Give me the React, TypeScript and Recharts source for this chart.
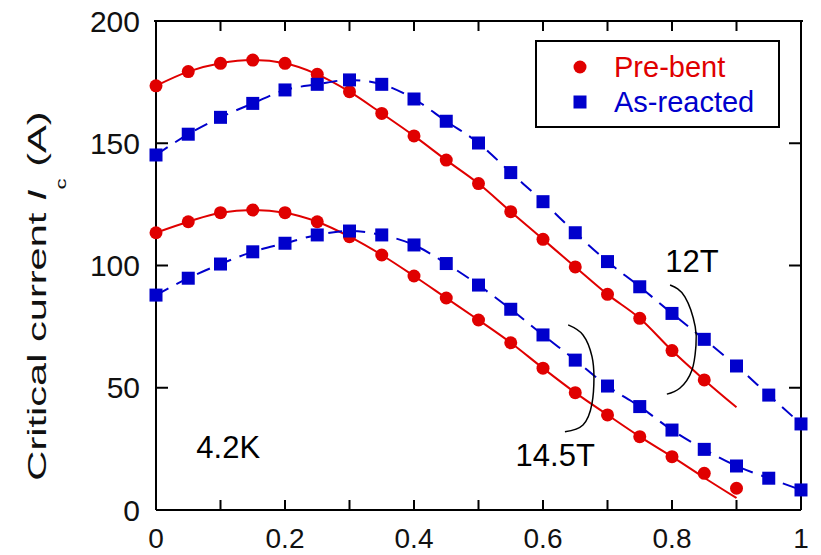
import React from "react";
import {
  ComposedChart,
  Line,
  Scatter,
  XAxis,
  YAxis,
  Legend,
  ReferenceDot,
} from "recharts";

// strain / bending position axis, one point every 0.05
const X_GRID = [
  0, 0.05, 0.1, 0.15, 0.2, 0.25, 0.3, 0.35, 0.4, 0.45, 0.5, 0.55, 0.6, 0.65,
  0.7, 0.75, 0.8, 0.85, 0.9, 0.95, 1,
];

const X_TICKS = [0, 0.1, 0.2, 0.3, 0.4, 0.5, 0.6, 0.7, 0.8, 0.9, 1];
const TOP_TICKS = [0.1, 0.2, 0.3, 0.4, 0.5, 0.6, 0.7, 0.8, 0.9];
const Y_TICKS = [0, 50, 100, 150, 200];
const Y_TICKS_RIGHT = [50, 100, 150];

// Pre-bent, 12T (measured points)
const RED_12T = [
  173.5, 179.3, 182.7, 184.0, 182.7, 178.2, 171.1, 162.2, 153.0, 143.1, 133.5,
  122.0, 110.7, 99.4, 88.2, 78.4, 65.2, 53.2,
];
// Pre-bent, 12T (fit curve)
const RED_12T_FIT = [
  173.5, 179.3, 182.7, 184.0, 182.7, 178.2, 171.1, 162.2, 153.0, 143.1, 133.5,
  122.0, 110.7, 99.4, 88.2, 78.4, 65.2, 53.2, 42.0,
];

// Pre-bent, 14.5T
const RED_14T = [
  113.4, 117.9, 121.6, 122.7, 121.6, 117.9, 111.8, 104.3, 95.7, 86.7, 77.7,
  68.4, 58.0, 48.0, 38.9, 30.0, 21.8, 15.0, 8.9,
];
const RED_14T_FIT = [
  113.4, 117.9, 121.6, 122.7, 121.6, 117.9, 111.8, 104.3, 95.7, 86.7, 77.7,
  68.4, 58.0, 48.0, 38.9, 30.0, 21.8, 13.2, 4.9,
];

// As-reacted, 12T
const BLUE_12T = [
  145.2, 153.7, 160.6, 166.3, 171.8, 174.1, 175.9, 174.1, 168.1, 159.0, 150.1,
  138.0, 126.1, 113.4, 101.6, 91.3, 80.4, 69.8, 58.9, 47.0, 35.2,
];

// As-reacted, 14.5T
const BLUE_14T = [
  87.9, 94.8, 100.6, 105.6, 109.1, 112.5, 114.1, 112.5, 108.4, 100.8, 92.0,
  82.1, 71.6, 61.3, 50.7, 42.3, 32.7, 24.8, 18.0, 13.0, 8.2,
];

// bracket arcs next to the field labels
const ARC_12T_X = [0.797, 0.82, 0.836, 0.837, 0.831, 0.812, 0.792];
const ARC_12T_Y = [92.0, 87.2, 75.0, 66.8, 57.3, 49.8, 47.4];
const ARC_14T_X = [0.639, 0.662, 0.676, 0.679, 0.676, 0.662, 0.634];
const ARC_14T_Y = [75.7, 71.6, 62.7, 53.9, 43.6, 34.8, 32.0];

const RED = "#E00000";
const BLUE = "#0000CC";
const FONT = "'Liberation Sans', Arial, sans-serif";

// plot box (matches chart margins / axis sizes below)
const PLOT_LEFT = 156;
const PLOT_TOP = 21;
const PLOT_WIDTH = 645;

const toPts = (vals: number[]) => vals.map((y, i) => ({ x: X_GRID[i], y }));
const zipPts = (xs: number[], ys: number[]) => xs.map((x, i) => ({ x, y: ys[i] }));

const circleShape = (p: any) => (
  <circle cx={p.cx} cy={p.cy} r={6.5} fill={RED} />
);
const squareShape = (p: any) => (
  <rect x={p.cx - 6.5} y={p.cy - 6.5} width={13} height={13} fill={BLUE} />
);

const fmtX = (v: number) => {
  const i = Math.round(v * 10);
  if (i % 2 !== 0) return "";
  return i === 0 ? "0" : i === 10 ? "1" : (i / 10).toFixed(1);
};

function YLabel() {
  return (
    <text
      transform="translate(37,296) rotate(-90) scale(1.6,1)"
      textAnchor="middle"
      fontSize={26}
      fill="#111"
      fontFamily={FONT}
      dy={9}
    >
      Critical current <tspan fontStyle="italic">I</tspan>
      <tspan fontSize={14} dy={20}>c</tspan>
      <tspan dy={-20}> (A)</tspan>
    </text>
  );
}

function LegendBox() {
  return (
    <div
      style={{
        width: 245,
        height: 88,
        boxSizing: "border-box",
        border: "2px solid #000",
        background: "#fff",
        position: "relative",
        fontFamily: FONT,
        fontSize: 29,
      }}
    >
      <svg width={30} height={80} style={{ position: "absolute", left: 28, top: 0 }}>
        <circle cx={15} cy={25} r={6.5} fill={RED} />
        <rect x={8.5} y={53.5} width={13} height={13} fill={BLUE} />
      </svg>
      <div style={{ position: "absolute", left: 77, top: 8, color: RED, lineHeight: "34px" }}>
        Pre-bent
      </div>
      <div style={{ position: "absolute", left: 77, top: 43, color: BLUE, lineHeight: "34px" }}>
        As-reacted
      </div>
    </div>
  );
}

// top edge of the frame with inward ticks
function TopFrame() {
  return (
    <svg
      width={PLOT_WIDTH + 4}
      height={14}
      style={{ position: "absolute", left: PLOT_LEFT - 2, top: PLOT_TOP - 2, zIndex: 5, pointerEvents: "none" }}
    >
      <line x1={0} y1={2} x2={PLOT_WIDTH + 4} y2={2} stroke="#000" strokeWidth={2} />
      {TOP_TICKS.map((t) => (
        <line
          key={t}
          x1={2 + t * PLOT_WIDTH}
          x2={2 + t * PLOT_WIDTH}
          y1={2}
          y2={12}
          stroke="#000"
          strokeWidth={2}
        />
      ))}
    </svg>
  );
}

const annot = (value: string) => ({
  value,
  position: "center" as const,
  fontSize: 31,
  fill: "#000",
  fontFamily: FONT,
});

export default function App() {
  const axisStroke = { stroke: "#000", strokeWidth: 2 };
  return (
    <div style={{ position: "absolute", left: 0, top: 0, width: 821, height: 555, background: "#fff" }}>
      <ComposedChart
        width={821}
        height={555}
        margin={{ top: PLOT_TOP, right: 0, bottom: 0, left: 0 }}
        style={{ fontFamily: FONT }}
      >
        <XAxis
          type="number"
          dataKey="x"
          domain={[0, 1]}
          ticks={X_TICKS}
          tickFormatter={fmtX}
          height={45}
          tickSize={-10}
          tickMargin={28}
          axisLine={axisStroke}
          tickLine={axisStroke}
          tick={{ fill: "#111", fontSize: 28 }}
          interval={0}
        />
        <YAxis
          type="number"
          domain={[0, 200]}
          ticks={Y_TICKS}
          width={PLOT_LEFT}
          tickSize={-12}
          tickMargin={28}
          axisLine={axisStroke}
          tickLine={axisStroke}
          tick={{ fill: "#111", fontSize: 30 }}
          interval={0}
          label={{ content: () => <YLabel /> }}
        />
        <YAxis
          yAxisId="r"
          orientation="right"
          type="number"
          domain={[0, 200]}
          ticks={Y_TICKS_RIGHT}
          width={20}
          tickSize={-12}
          tickFormatter={() => ""}
          axisLine={axisStroke}
          tickLine={axisStroke}
          interval={0}
        />

        {/* invisible series so the right frame axis gets its ticks */}
        <Line yAxisId="r" data={toPts(BLUE_12T)} dataKey="y" stroke="none" dot={false} activeDot={false} isAnimationActive={false} legendType="none" />

        <Line data={toPts(RED_12T_FIT)} dataKey="y" type="monotone" stroke={RED} strokeWidth={2} dot={false} isAnimationActive={false} legendType="none" />
        <Line data={toPts(RED_14T_FIT)} dataKey="y" type="monotone" stroke={RED} strokeWidth={2} dot={false} isAnimationActive={false} legendType="none" />
        <Line data={toPts(BLUE_12T)} dataKey="y" type="monotone" stroke={BLUE} strokeWidth={2} strokeDasharray="14 9" dot={false} isAnimationActive={false} legendType="none" />
        <Line data={toPts(BLUE_14T)} dataKey="y" type="monotone" stroke={BLUE} strokeWidth={2} strokeDasharray="14 9" dot={false} isAnimationActive={false} legendType="none" />

        <Line data={zipPts(ARC_12T_X, ARC_12T_Y)} dataKey="y" type="natural" stroke="#000" strokeWidth={1.5} dot={false} isAnimationActive={false} legendType="none" />
        <Line data={zipPts(ARC_14T_X, ARC_14T_Y)} dataKey="y" type="natural" stroke="#000" strokeWidth={1.5} dot={false} isAnimationActive={false} legendType="none" />

        <Scatter name="Pre-bent 12T" data={toPts(RED_12T)} dataKey="y" shape={circleShape} isAnimationActive={false} />
        <Scatter name="Pre-bent 14.5T" data={toPts(RED_14T)} dataKey="y" shape={circleShape} isAnimationActive={false} />
        <Scatter name="As-reacted 12T" data={toPts(BLUE_12T)} dataKey="y" shape={squareShape} isAnimationActive={false} />
        <Scatter name="As-reacted 14.5T" data={toPts(BLUE_14T)} dataKey="y" shape={squareShape} isAnimationActive={false} />

        <ReferenceDot x={0.831} y={101.8} r={0} fill="none" stroke="none" label={annot("12T")} />
        <ReferenceDot x={0.619} y={22.5} r={0} fill="none" stroke="none" label={annot("14.5T")} />
        <ReferenceDot x={0.112} y={25.8} r={0} fill="none" stroke="none" label={annot("4.2K")} />

        <Legend
          layout="horizontal"
          verticalAlign="middle"
          align="center"
          content={() => <LegendBox />}
          wrapperStyle={{ position: "absolute", left: 535, top: 40, width: 245, height: 88 }}
        />
      </ComposedChart>
      <TopFrame />
    </div>
  );
}
